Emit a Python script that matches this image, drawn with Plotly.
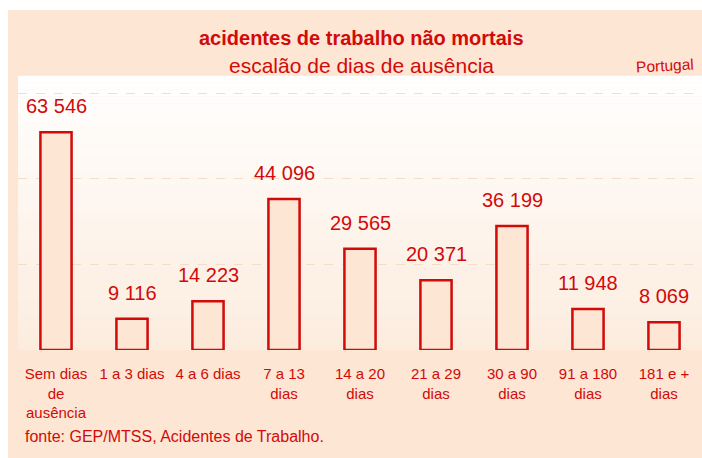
import plotly.graph_objects as go

categories = ["Sem dias<br>de<br>ausência", "1 a 3 dias", "4 a 6 dias", "7 a 13<br>dias",
              "14 a 20<br>dias", "21 a 29<br>dias", "30 a 90<br>dias", "91 a 180<br>dias", "181 e +<br>dias"]
values = [63546, 9116, 14223, 44096, 29565, 20371, 36199, 11948, 8069]
value_labels = ["63 546", "9 116", "14 223", "44 096", "29 565", "20 371", "36 199", "11 948", "8 069"]

RED = "#D20A0A"
PEACH = "#FDE6D3"
FONT = "Liberation Sans, Arial, sans-serif"

W, H = 702, 458
L, R, T, B = 18, 0, 76, 108
PW, PH = W - L - R, H - T - B


def px(fx):
    return (fx - L) / PW


def py(fy):
    return (H - B - fy) / PH


x_idx = list(range(len(categories)))

fig = go.Figure()
fig.add_trace(go.Bar(
    x=x_idx, y=values, width=0.41,
    marker=dict(color=PEACH, line=dict(color=RED, width=2.5)),
    hoverinfo="skip",
))

shapes = []
# white page border at top and left
shapes.append(dict(type="rect", xref="paper", yref="paper", layer="below",
                   x0=px(-2), x1=px(W + 2), y0=py(10), y1=py(-2),
                   fillcolor="white", line=dict(width=0)))
shapes.append(dict(type="rect", xref="paper", yref="paper", layer="below",
                   x0=px(-2), x1=px(8), y0=py(H + 2), y1=py(-2),
                   fillcolor="white", line=dict(width=0)))
# gradient plot background (white top -> light peach bottom)
n = 40
top_c = (255, 255, 255)
bot_c = (252, 236, 222)
for i in range(n):
    f = (i + 0.5) / n
    c = tuple(int(round(top_c[k] + (bot_c[k] - top_c[k]) * f)) for k in range(3))
    shapes.append(dict(type="rect", xref="paper", yref="paper", layer="below",
                       x0=0, x1=1, y0=1 - (i + 1) / n, y1=1 - i / n + 0.001,
                       fillcolor="rgb(%d,%d,%d)" % c, line=dict(width=0)))

annotations = []
for xi, v, lab in zip(x_idx, values, value_labels):
    annotations.append(dict(x=xi, y=v, text=lab, showarrow=False, xanchor="center",
                            yanchor="bottom", yshift=13,
                            font=dict(family=FONT, size=20, color=RED)))

annotations.append(dict(xref="paper", yref="paper", x=px(361), y=py(38),
                        text="<b>acidentes de trabalho não mortais</b>", showarrow=False,
                        xanchor="center", yanchor="middle",
                        font=dict(family=FONT, size=20, color=RED)))
annotations.append(dict(xref="paper", yref="paper", x=px(361.5), y=py(65),
                        text="escalão de dias de ausência", showarrow=False,
                        xanchor="center", yanchor="middle",
                        font=dict(family=FONT, size=21, color=RED)))
annotations.append(dict(xref="paper", yref="paper", x=px(665), y=py(66),
                        text="Portugal", showarrow=False, textangle=-3,
                        xanchor="center", yanchor="middle",
                        font=dict(family=FONT, size=15.5, color=RED)))
annotations.append(dict(xref="paper", yref="paper", x=px(23), y=py(437),
                        text="fonte: GEP/MTSS, Acidentes de Trabalho.", showarrow=False,
                        xanchor="left", yanchor="middle",
                        font=dict(family=FONT, size=16, color=RED)))

fig.update_layout(
    width=W, height=H,
    margin=dict(l=L, r=R, t=T, b=B, pad=0),
    paper_bgcolor=PEACH,
    plot_bgcolor="rgba(0,0,0,0)",
    showlegend=False,
    shapes=shapes,
    annotations=annotations,
    xaxis=dict(tickmode="array", tickvals=x_idx, ticktext=categories,
               range=[-0.5, len(categories) - 0.5], showgrid=False, zeroline=False,
               showline=False, ticks="outside", ticklen=10, tickcolor="rgba(0,0,0,0)",
               tickfont=dict(family=FONT, size=15, color=RED), fixedrange=True),
    yaxis=dict(range=[0, 80000], dtick=25000, showgrid=True, gridcolor="#F3DCCB",
               griddash="dash", gridwidth=1, zeroline=False, showline=False,
               showticklabels=False, ticks="", fixedrange=True),
)

fig.write_html("out.html",
               config={"displayModeBar": False},
               post_script="document.body.style.margin='0';document.body.style.overflow='hidden';"
                           "document.documentElement.style.overflow='hidden';")
